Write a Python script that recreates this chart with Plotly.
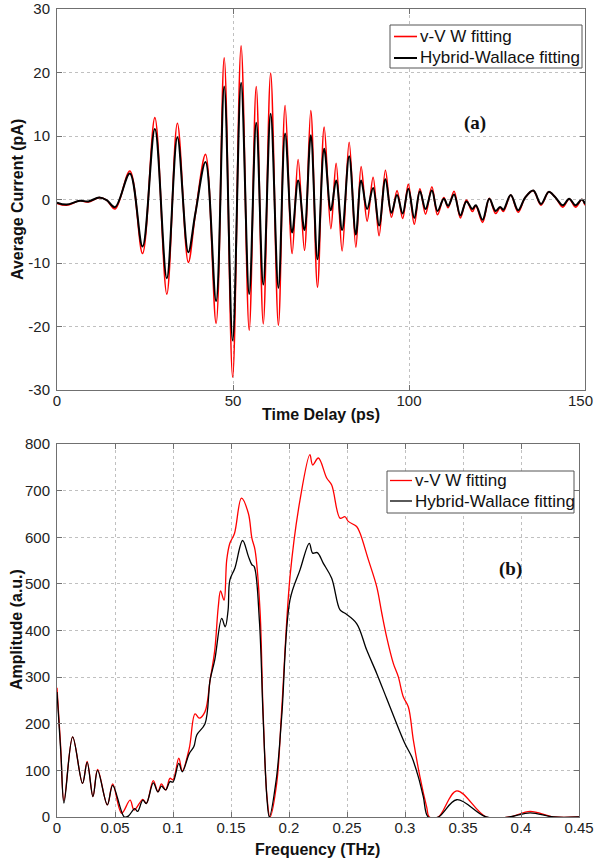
import plotly.graph_objects as go

# ---------------- (a) time domain ----------------
t_ps = [0, 2.7, 6.5, 8.9, 12.0, 14.1, 16.5, 20.7, 24.3, 27.8, 31.2, 34.2, 37.3, 39.3, 42.2,
        45.2, 47.5, 49.9, 52.3, 54.6, 56.6, 58.6, 60.7, 62.9, 64.8, 66.8, 68.5, 70.3, 72.1,
        74.0, 75.9, 77.8, 79.3, 81.0, 83.0, 84.9, 86.4, 88.1, 89.8, 91.5, 93.3, 95.0, 96.6,
        98.2, 99.8, 101.5, 103.1, 104.7, 106.5, 108.1, 109.9, 111.1, 112.8, 114.6, 116.3,
        118.0, 119.0, 120.9, 122.8, 124.6, 125.9, 126.8, 128.9, 131.0, 133.0, 135.3, 137.5,
        139.7, 141.5, 143.7, 145.5, 147.3, 149.1, 150]
current_vvw = [-0.6, -0.9, -0.2, -0.4, 0.3, -0.1, -1.5, 4.5, -8.5, 12.9, -14.9, 12.0, -9.9, -2.3, 7.1,
               -19.5, 22.3, -28.0, 24.2, -20.6, 17.8, -19.6, 19.9, -19.8, 14.8, -8.5, 6.3, -8.0, 14.0,
               -13.8, 11.4, -4.6, 5.7, -8.1, 9.0, -7.5, 5.2, -3.4, 3.5, -5.7, 4.6, -2.8, 1.4,
               -3.0, 2.4, -3.9, 1.7, -2.3, 2.0, -2.4, 0.3, -1.3, 1.3, -2.9, -0.1,
               -1.9, -1.0, -3.6, 0.2, -2.2, -1.3, -1.9, 0.7, -2.0, 0.3, 1.4, -0.9,
               1.2, 0.4, -1.2, 0.1, -1.2, 0.0, -0.9]
current_hw = [-0.5, -0.8, -0.2, -0.3, 0.3, -0.1, -1.2, 4.1, -7.4, 11.1, -12.4, 9.8, -8.3, -2.2, 5.9,
              -16.0, 17.8, -22.2, 18.4, -14.9, 12.1, -13.4, 13.5, -13.9, 10.4, -5.2, 3.0, -4.8, 10.1,
              -9.4, 8.0, -1.7, 3.0, -4.8, 6.8, -5.5, 3.0, -1.5, 1.8, -4.1, 3.2, -2.1, 0.7,
              -2.2, 1.7, -2.9, 1.3, -1.5, 1.4, -1.8, 0.1, -1.0, 0.8, -2.5, -0.3,
              -1.5, -0.9, -3.2, 0.1, -1.8, -1.2, -1.6, 0.7, -1.7, 0.3, 1.4, -0.7,
              1.2, 0.4, -0.9, 0.1, -0.9, 0.0, -0.7]

# ---------------- (b) frequency domain ----------------
freq_vvw = [0, 0.003, 0.006, 0.0135, 0.022, 0.026, 0.031, 0.035, 0.0434, 0.048, 0.0557, 0.063,
            0.0665, 0.074, 0.077, 0.083, 0.087, 0.090, 0.0937, 0.0974, 0.1, 0.105, 0.108, 0.114,
            0.119, 0.1227, 0.1276, 0.132, 0.136, 0.139, 0.141, 0.144, 0.1463, 0.149, 0.153,
            0.159, 0.165, 0.168, 0.1707, 0.175, 0.1776, 0.181, 0.1836, 0.1894, 0.1937, 0.2009,
            0.2095, 0.218, 0.2204, 0.2253, 0.2325, 0.2368, 0.244, 0.2483, 0.2511, 0.2583,
            0.2612, 0.2684, 0.2756, 0.28, 0.2842, 0.29, 0.2942, 0.2985, 0.3029, 0.3072, 0.3129,
            0.3187, 0.321, 0.3287, 0.3446, 0.37, 0.39, 0.4078, 0.428, 0.45]
amp_vvw = [277, 158, 35, 172, 72, 119, 44, 102, 26, 71, 8, 36,
           15, 38, 29, 78, 54, 71, 58, 83, 80, 126, 99, 147,
           221, 212, 226, 294, 358, 450, 485, 465, 551, 587, 608,
           684, 651, 598, 573, 444, 230, 44, 0, 72, 230, 516,
           680, 777, 755, 770, 727, 712, 641, 644, 634, 623,
           609, 552, 494, 437, 386, 329, 301, 258, 236, 165, 86,
           21, 0, 0, 56, 0, 0, 12, 0, 0]

freq_hw = [0, 0.0035, 0.006, 0.0135, 0.022, 0.026, 0.031, 0.035, 0.0434, 0.048, 0.058, 0.0615,
           0.067, 0.0695, 0.074, 0.077, 0.083, 0.087, 0.090, 0.0937, 0.0974, 0.1, 0.105, 0.108,
           0.114, 0.118, 0.1205, 0.1276, 0.132, 0.136, 0.142, 0.145, 0.1475, 0.149, 0.1534,
           0.16, 0.165, 0.168, 0.17, 0.1745, 0.1776, 0.181, 0.183, 0.189, 0.1937, 0.2009,
           0.2095, 0.2175, 0.2204, 0.2244, 0.2296, 0.2368, 0.244, 0.2483, 0.2583, 0.267,
           0.2756, 0.2842, 0.2928, 0.3, 0.3058, 0.3115, 0.3158, 0.32, 0.3287, 0.3446, 0.37,
           0.39, 0.4078, 0.428, 0.45]
amp_hw = [268, 130, 30, 172, 72, 117, 44, 100, 26, 68, 0, 2,
          18, 12, 36, 29, 73, 54, 66, 58, 76, 75, 115, 97,
          136, 151, 176, 200, 294, 337, 426, 408, 444, 508, 534,
          593, 559, 541, 537, 420, 220, 40, 0, 80, 215, 466,
          530, 587, 566, 567, 544, 512, 444, 437, 415, 358,
          308, 254, 200, 157, 129, 86, 43, 0, 0, 37, 0,
          0, 9, 0, 0]

series_names = ["v-V W fitting", "Hybrid-Wallace fitting"]
series_colors = ["#ff0000", "#000000"]

# tick values / labels (the last top-axis label is drawn separately so it fits the page)
xa_ticks = [0, 50, 100, 150]
xa_labels = ["0", "50", "100", ""]
xa_last_label = "150"
ya_ticks = [-30, -20, -10, 0, 10, 20, 30]
ya_labels = ["-30", "-20", "-10", "0", "10", "20", "30"]
xb_ticks = [0, 0.05, 0.1, 0.15, 0.2, 0.25, 0.3, 0.35, 0.4, 0.45]
xb_labels = ["0", "0.05", "0.1", "0.15", "0.2", "0.25", "0.3", "0.35", "0.4", "0.45"]
yb_ticks = [0, 100, 200, 300, 400, 500, 600, 700, 800]
yb_labels = [str(v) for v in yb_ticks]

axis_titles = ["Time Delay (ps)", "Average Current (pA)", "Frequency (THz)", "Amplitude (a.u.)"]

W, H = 596, 863
FONT = "Liberation Sans, Arial, sans-serif"
SERIF = "Liberation Serif, Times New Roman, serif"


def px(x):
    return x / W


def py(y):
    return 1 - y / H


fig = go.Figure()
fig.add_trace(go.Scatter(x=t_ps, y=current_vvw, mode="lines", name=series_names[0],
                         line=dict(color=series_colors[0], width=1.6, shape="spline"),
                         xaxis="x", yaxis="y"))
fig.add_trace(go.Scatter(x=t_ps, y=current_hw, mode="lines", name=series_names[1],
                         line=dict(color=series_colors[1], width=2.0, shape="spline"),
                         xaxis="x", yaxis="y"))
fig.add_trace(go.Scatter(x=freq_vvw, y=amp_vvw, mode="lines", name=series_names[0],
                         line=dict(color=series_colors[0], width=1.3, shape="spline"),
                         xaxis="x2", yaxis="y2"))
fig.add_trace(go.Scatter(x=freq_hw, y=amp_hw, mode="lines", name=series_names[1],
                         line=dict(color=series_colors[1], width=1.3, shape="spline"),
                         xaxis="x2", yaxis="y2"))

tick_font = dict(family=FONT, size=15, color="#222")
axis_common = dict(showline=True, mirror="ticks", linecolor="#707070", linewidth=1,
                   ticks="inside", ticklen=5, tickcolor="#707070", automargin=False,
                   showgrid=True, gridcolor="#c0c0c0", gridwidth=1, griddash="dot",
                   zeroline=False, tickfont=tick_font, ticklabeloverflow="allow")
title_font = dict(family=FONT, size=16, color="#111")

# manual legends (box, sample lines, labels) in figure pixels
shapes = []
annotations = []
legend_boxes = [
    (390, 25, 582, 68, 394, 417, 418, [36.5, 58], [1.6, 2.0]),
    (387, 471, 574, 513, 390, 412, 413, [480.5, 501], [1.3, 1.3]),
]
for (l, t, r, b, lx0, lx1, tx, rows, lws) in legend_boxes:
    shapes.append(dict(type="rect", xref="paper", yref="paper",
                       x0=px(l), x1=px(r), y0=py(b), y1=py(t),
                       line=dict(color="#555", width=1), fillcolor="white", layer="above"))
    for name, color, ry, lw in zip(series_names, series_colors, rows, lws):
        shapes.append(dict(type="line", xref="paper", yref="paper",
                           x0=px(lx0), x1=px(lx1), y0=py(ry), y1=py(ry),
                           line=dict(color=color, width=lw), layer="above"))
        annotations.append(dict(text=name, x=px(tx), y=py(ry), xref="paper", yref="paper",
                                xanchor="left", yanchor="middle", showarrow=False,
                                font=dict(family=FONT, size=17, color="#111")))

annotations += [
    dict(text="<b>(a)</b>", x=px(488), y=py(110), xref="paper", yref="paper",
         showarrow=False, font=dict(family=SERIF, size=19, color="#111")),
    dict(text="<b>(b)</b>", x=px(524), y=py(582), xref="paper", yref="paper",
         showarrow=False, font=dict(family=SERIF, size=19, color="#111")),
    # last tick label of the time axis, kept inside the page
    dict(text=xa_last_label, x=px(595), y=py(400), xref="paper", yref="paper",
         xanchor="right", yanchor="middle", showarrow=False, font=tick_font),
    # axis titles
    dict(text="<b>" + axis_titles[0] + "</b>", x=px(321), y=py(415), xref="paper", yref="paper",
         xanchor="center", yanchor="middle", showarrow=False, font=title_font),
    dict(text="<b>" + axis_titles[1] + "</b>", x=px(17.5), y=py(199.5), xref="paper",
         yref="paper", xanchor="center", yanchor="middle", textangle=-90, showarrow=False,
         font=title_font),
    dict(text="<b>" + axis_titles[2] + "</b>", x=px(318), y=py(849), xref="paper", yref="paper",
         xanchor="center", yanchor="middle", showarrow=False, font=title_font),
    dict(text="<b>" + axis_titles[3] + "</b>", x=px(16), y=py(630), xref="paper",
         yref="paper", xanchor="center", yanchor="middle", textangle=-90, showarrow=False,
         font=title_font),
]

fig.update_layout(
    template="none",
    width=W, height=H, margin=dict(l=0, r=0, t=0, b=0, autoexpand=False),
    paper_bgcolor="white", plot_bgcolor="white", showlegend=False,
    xaxis=dict(axis_common, domain=[px(57), px(585)], range=[0, 150], anchor="y",
               tickvals=xa_ticks, ticktext=xa_labels, ticklabelstandoff=-3),
    yaxis=dict(axis_common, domain=[py(390), py(9)], range=[-30, 30], anchor="x",
               tickvals=ya_ticks, ticktext=ya_labels, ticklabelstandoff=3),
    xaxis2=dict(axis_common, domain=[px(57), px(579)], range=[0, 0.45], anchor="y2",
                tickvals=xb_ticks, ticktext=xb_labels, ticklabelstandoff=-3),
    yaxis2=dict(axis_common, domain=[py(817), py(444)], range=[0, 800], anchor="x2",
                tickvals=yb_ticks, ticktext=yb_labels, ticklabelstandoff=3),
    shapes=shapes,
    annotations=annotations,
)

fig.write_html("out.html", config={"displayModeBar": False},
               post_script="document.body.style.margin='0px';")
